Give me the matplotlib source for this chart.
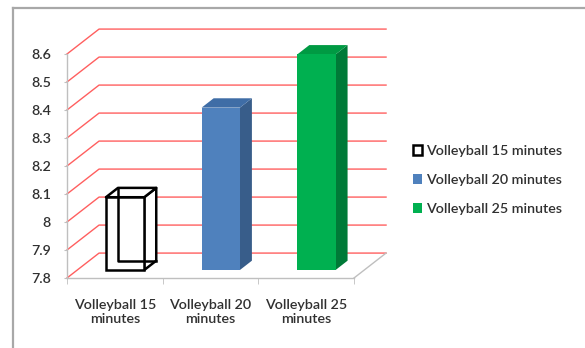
import numpy as np
import matplotlib
matplotlib.use("Agg")
import matplotlib.pyplot as plt
from matplotlib.patches import Polygon
from matplotlib.lines import Line2D

categories = ["Volleyball 15\nminutes", "Volleyball 20\nminutes", "Volleyball 25\nminutes"]
series = ["Volleyball 15 minutes", "Volleyball 20 minutes", "Volleyball 25 minutes"]
values = [8.06, 8.38, 8.57]
yticks = [7.8, 7.9, 8.0, 8.1, 8.2, 8.3, 8.4, 8.5, 8.6]
ytick_labels = ["7.8", "7.9", "8", "8.1", "8.2", "8.3", "8.4", "8.5", "8.6"]

front_col = ["white", "#4F81BD", "#00B050"]
side_col = ["white", "#385D8A", "#007A37"]
top_col = ["white", "#3F6DA6", "#009A43"]
edge_col = ["black", "none", "none"]

plt.rcParams['font.family'] = ['Lato', 'DejaVu Sans']
plt.rcParams['font.weight'] = 'semibold'
fs = 10.3
txt = "#303030"
grid_red = "#FF5F5F"
axis_gray = "#BFBFBF"

fig = plt.figure(figsize=(5.85, 3.48), dpi=100)
ax = fig.add_axes([67 / 585, 70 / 348, 287 / 585, 224 / 348])
ymin, ymax = 7.8, 8.6
ax.set_xlim(-0.5, 2.5)
ax.set_ylim(ymin, ymax)

# oblique depth of the whole plot box, in data units
DX, DY = 0.335, 0.089
d0, db = 0.32, 0.375   # bar start depth and bar depth (fractions)
w = 0.40

# walls / gridlines
for v in yticks:
    ax.plot([-0.5, -0.5 + DX, 2.5 + DX], [v, v + DY, v + DY], color=grid_red,
            lw=1.0, clip_on=False, zorder=1)
ax.plot([2.5, 2.5 + DX], [ymin, ymin + DY], color=axis_gray, lw=1.0, clip_on=False, zorder=1)

for s in ["top", "right"]:
    ax.spines[s].set_visible(False)
for s in ["left", "bottom"]:
    ax.spines[s].set_color(axis_gray)
    ax.spines[s].set_linewidth(1.0)
    ax.spines[s].set_zorder(2)

bars = []
for i, v in enumerate(values):
    x0 = i - w / 2 + d0 * DX
    yb = ymin + d0 * DY
    yt = v + d0 * DY
    bx, by = db * DX, db * DY
    lw = 1.8 if edge_col[i] != "none" else 0
    b = ax.bar(i + d0 * DX, v - ymin, bottom=yb, width=w, color=front_col[i],
               edgecolor=edge_col[i], linewidth=lw, label=series[i], zorder=5,
               clip_on=False)
    bars.append(b)
    side = Polygon([(x0 + w, yb), (x0 + w + bx, yb + by), (x0 + w + bx, yt + by), (x0 + w, yt)],
                   closed=True, facecolor=side_col[i], edgecolor=edge_col[i], lw=lw,
                   zorder=4, clip_on=False, joinstyle="round")
    top = Polygon([(x0, yt), (x0 + w, yt), (x0 + w + bx, yt + by), (x0 + bx, yt + by)],
                  closed=True, facecolor=top_col[i], edgecolor=edge_col[i], lw=lw,
                  zorder=4, clip_on=False, joinstyle="round")
    ax.add_patch(side)
    ax.add_patch(top)
    if edge_col[i] != "none":
        # hidden edges of the wireframe box
        ax.plot([x0 + bx, x0 + bx, x0 + w + bx], [yt + by, yb + by, yb + by],
                color=edge_col[i], lw=lw, zorder=6, clip_on=False)

ax.set_yticks(yticks)
ax.set_yticklabels(ytick_labels)
ax.set_xticks(range(len(categories)))
ax.set_xticklabels(categories)
ax.set_xticks([-0.5, 0.5, 1.5, 2.5], minor=True)
ax.tick_params(axis="y", length=2.5, color=axis_gray, pad=9, labelsize=fs, labelcolor=txt)
ax.tick_params(axis="x", which="major", length=0, pad=15, labelsize=fs, labelcolor=txt)
ax.tick_params(axis="x", which="minor", length=4, color=axis_gray)
ax.patch.set_alpha(0)

leg = ax.legend(loc="center left", bbox_to_anchor=(400 / 585, 1 - 180 / 348),
                bbox_transform=fig.transFigure, frameon=False, fontsize=fs,
                handlelength=0.65, handleheight=0.65, handletextpad=0.25,
                labelspacing=1.2, labelcolor=txt)

# chart area border (cut at right/bottom as in the screenshot)
fig.add_artist(Line2D([12.5 / 585, 12.5 / 585], [0, 1 - 7.5 / 348], color="#A8A8A8", lw=1.6,
                      transform=fig.transFigure))
fig.add_artist(Line2D([12.5 / 585, 1], [1 - 7.5 / 348, 1 - 7.5 / 348], color="#A8A8A8", lw=1.6,
                      transform=fig.transFigure))

fig.savefig("out.png", dpi=100)
